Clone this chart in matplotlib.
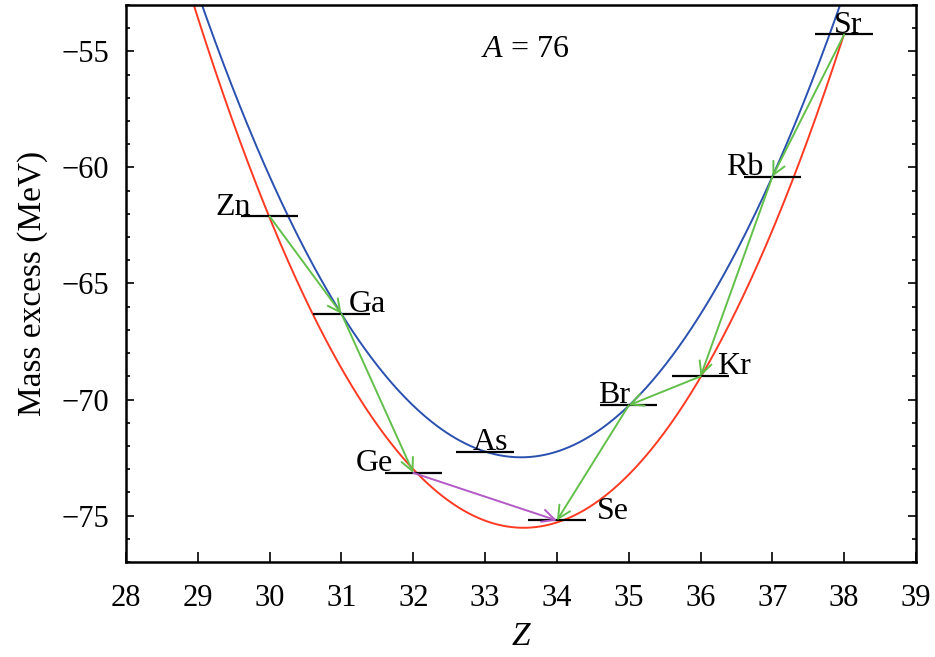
import numpy as np
import matplotlib
matplotlib.use("Agg")
import matplotlib.pyplot as plt
from matplotlib.ticker import MultipleLocator

# isobars A = 76 : mass excess (MeV)
elements = ['Zn', 'Ga', 'Ge', 'As', 'Se', 'Br', 'Kr', 'Rb', 'Sr']
Z = [30, 31, 32, 33, 34, 35, 36, 37, 38]
mass = [-62.11, -66.31, -73.16, -72.26, -75.21, -70.25, -69.00, -60.40, -54.27]

# decays (from, to)
beta_decays = [('Zn', 'Ga'), ('Ga', 'Ge'), ('Sr', 'Rb'), ('Rb', 'Kr'), ('Kr', 'Br'), ('Br', 'Se')]
double_beta = [('Ge', 'Se')]

# label placement : (dx, ha)
label_pos = {'Zn': (-0.26, 'right'), 'Ga': (0.10, 'left'), 'Ge': (-0.28, 'right'),
             'As': (-0.17, 'left'), 'Se': (0.55, 'left'), 'Br': (0.02, 'right'),
             'Kr': (0.23, 'left'), 'Rb': (-0.13, 'right'), 'Sr': (-0.15, 'left')}

RED = '#ff3a22'
BLUE = '#2a50b0'
GREEN = '#62c04a'
PURPLE = '#b45ac6'

plt.rcParams['font.family'] = ['Liberation Serif', 'DejaVu Serif']
plt.rcParams['mathtext.fontset'] = 'custom'
plt.rcParams['mathtext.rm'] = 'Liberation Serif'
plt.rcParams['mathtext.it'] = 'Liberation Serif:italic'

lvl = dict(zip(elements, zip(Z, mass)))

fig = plt.figure(figsize=(9.35, 6.57), dpi=100)
ax = fig.add_axes([0.1348, 0.1446, 0.8449, 0.8478])

# mass parabolas, even-even and odd-odd, fitted on the levels
zz = np.linspace(28.9, 38.0, 400)
even = [e for e, z in zip(elements, Z) if z % 2 == 0]
odd = [e for e, z in zip(elements, Z) if z % 2 == 1]
p_even = np.polyfit([lvl[e][0] for e in even], [lvl[e][1] for e in even], 2)
p_odd = np.polyfit([lvl[e][0] for e in odd], [lvl[e][1] for e in odd], 2)
ax.plot(zz, np.polyval(p_even, zz), color=RED, lw=1.4, zorder=2)
ax.plot(zz, np.polyval(p_odd, zz), color=BLUE, lw=1.4, zorder=2)

ax.hlines(mass, np.array(Z) - 0.4, np.array(Z) + 0.4, color='k', lw=1.6, zorder=3)

def arrow(a, b, col):
    ax.annotate('', xy=lvl[b], xytext=lvl[a],
                arrowprops=dict(arrowstyle='->,head_length=0.6,head_width=0.3',
                                color=col, lw=1.4, mutation_scale=15,
                                shrinkA=0, shrinkB=0), zorder=4)

for a, b in beta_decays:
    arrow(a, b, GREEN)
for a, b in double_beta:
    arrow(a, b, PURPLE)

for e in elements:
    dx, ha = label_pos[e]
    ax.text(lvl[e][0] + dx, lvl[e][1] + 0.08, e, ha=ha, va='baseline', fontsize=23, zorder=5)

ax.text(33.56, -54.9, '$A$ = 76', ha='center', va='center', fontsize=23)

ax.set_xlim(28, 39)
ax.set_ylim(-77, -53)
ax.xaxis.set_major_locator(MultipleLocator(1))
ax.yaxis.set_major_locator(MultipleLocator(5))
ax.yaxis.set_minor_locator(MultipleLocator(1))
ax.tick_params(axis='x', which='both', direction='in', top=False, length=7, width=1.2,
               labelsize=22, pad=16)
ax.tick_params(axis='y', which='major', direction='in', right=True, length=6, width=1.2,
               labelsize=22, pad=12)
ax.tick_params(axis='y', which='minor', direction='in', right=True, length=3, width=1.2)
for s in ax.spines.values():
    s.set_linewidth(1.8)

ax.set_xlabel('$Z$', fontsize=24, labelpad=6)
ax.set_ylabel('Mass excess (MeV)', fontsize=24, labelpad=10)

fig.savefig('out.png', dpi=100)
